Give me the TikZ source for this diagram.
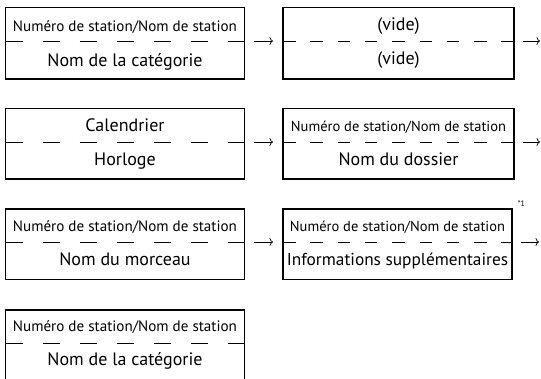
\documentclass[tikz,border=0pt]{standalone}
\usepackage{fontspec}
\setmainfont{PT Sans}
\usetikzlibrary{arrows.meta}
\tikzset{
  box/.style={draw, line width=1.1pt, inner sep=0pt, outer sep=0pt},
  dashL/.style={line width=1pt, dash pattern=on 17pt off 20.08pt},
  dashR/.style={line width=1pt, dash pattern=on 12.5pt off 14.81pt},
  arr/.style={line width=0.7pt, -{To[length=3.5pt,width=8pt]}},
  small/.style={font=\fontsize{15.1}{17}\selectfont, anchor=base},
  smallR/.style={font=\fontsize{14.5}{17}\selectfont, anchor=base},
  large/.style={font=\fontsize{18}{20}\selectfont, anchor=base},
  largeR/.style={font=\fontsize{17.3}{20}\selectfont, anchor=base},
  note/.style={font=\fontsize{8}{9}\selectfont}
}
\begin{document}
\begin{tikzpicture}[x=1pt,y=-1pt]
\path[use as bounding box, clip] (0,0) rectangle (541,378);
% row 1
\node[box, minimum width=239pt, minimum height=71.7pt] (b11) at (125,43.15) {};
\node[box, minimum width=231pt, minimum height=71.7pt] (b12) at (398.5,43.15) {};
\coordinate (m1) at (0,41);
\draw[dashL] (b11.west |- m1) -- (b11.east |- m1);
\draw[dashR] (b12.west |- m1) -- (b12.east |- m1);
\node[small] (t11a) at (125,31) {Numéro de station/Nom de station};
\node[large] (t11b) at (125,66) {Nom de la catégorie};
\node[large] (t12a) at (398.5,30) {(vide)};
\node[large] (t12b) at (398.5,64) {(vide)};
\coordinate (e1) at (541,41);
\draw[arr, shorten <=9.5pt, shorten >=10pt] (b11.east |- m1) -- (b12.west |- m1);
\draw[arr, shorten <=9pt, shorten >=1pt] (b12.east |- m1) -- (e1);
% row 2
\node[box, minimum width=239pt, minimum height=70.7pt] (b21) at (125,143.65) {};
\node[box, minimum width=231pt, minimum height=70.7pt] (b22) at (398.5,143.65) {};
\coordinate (m2) at (0,142);
\draw[dashL] (b21.west |- m2) -- (b21.east |- m2);
\draw[dashR] (b22.west |- m2) -- (b22.east |- m2);
\node[large] (t21a) at (125,131) {Calendrier};
\node[large] (t21b) at (125,165) {Horloge};
\node[smallR] (t22a) at (398.5,131) {Numéro de station/Nom de station};
\node[large] (t22b) at (398.5,165) {Nom du dossier};
\coordinate (e2) at (541,142);
\draw[arr, shorten <=9.5pt, shorten >=10pt] (b21.east |- m2) -- (b22.west |- m2);
\draw[arr, shorten <=9pt, shorten >=1pt] (b22.east |- m2) -- (e2);
% row 3
\node[box, minimum width=239pt, minimum height=70.3pt] (b31) at (125,244.15) {};
\node[box, minimum width=229pt, minimum height=70.3pt] (b32) at (397.5,244.15) {};
\coordinate (m3) at (0,242);
\draw[dashL] (b31.west |- m3) -- (b31.east |- m3);
\draw[dashR] (b32.west |- m3) -- (b32.east |- m3);
\node[small] (t31a) at (125,231) {Numéro de station/Nom de station};
\node[large] (t31b) at (125,265) {Nom du morceau};
\node[smallR] (t32a) at (397.5,231) {Numéro de station/Nom de station};
\node[largeR] (t32b) at (397.5,265) {Informations supplémentaires};
\node[note] (n32) at (521.5,203.5) {*1};
\coordinate (e3) at (541,242);
\draw[arr, shorten <=9.5pt, shorten >=10pt] (b31.east |- m3) -- (b32.west |- m3);
\draw[arr, shorten <=9pt, shorten >=2pt] (b32.east |- m3) -- (e3);
% row 4
\node[box, minimum width=239pt, minimum height=80pt] (b41) at (125,350) {};
\coordinate (m4) at (0,343);
\draw[dashL] (b41.west |- m4) -- (b41.east |- m4);
\node[small] (t41a) at (125,331) {Numéro de station/Nom de station};
\node[large] (t41b) at (125,365) {Nom de la catégorie};
\end{tikzpicture}
\end{document}
